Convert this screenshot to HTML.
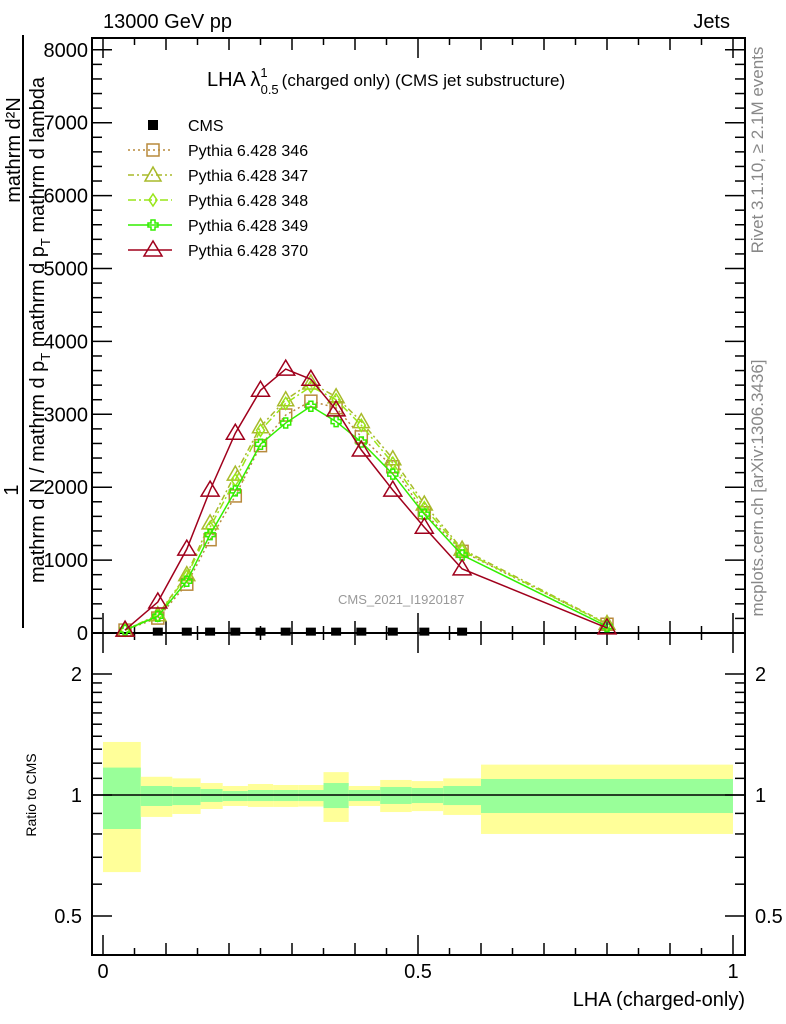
<!DOCTYPE html>
<html><head><meta charset="utf-8"><style>
body{margin:0;background:#fff;}
svg{display:block;font-family:"Liberation Sans",sans-serif;}
</style></head><body>
<svg id="chart" width="786" height="1024" viewBox="0 0 786 1024">
<g id="ratio-bands"></g>
<g id="axes"></g>
<g id="series"></g>
<text x="103" y="28" font-size="20">13000 GeV pp</text>
<text x="730" y="28" font-size="20" text-anchor="end">Jets</text>
<text x="207" y="86" font-size="20">LHA λ<tspan font-size="13" dy="-9">1</tspan><tspan font-size="13" dx="-7" dy="17">0.5</tspan><tspan font-size="17" dy="-8" dx="3">(charged only) (CMS jet substructure)</tspan></text>
<text x="338" y="604" font-size="13" fill="#999">CMS_2021_I1920187</text>
<text transform="translate(763,150) rotate(-90)" font-size="17" fill="#888" text-anchor="middle">Rivet 3.1.10, ≥ 2.1M events</text>
<text transform="translate(763,488) rotate(-90)" font-size="17" fill="#888" text-anchor="middle">mcplots.cern.ch [arXiv:1306.3436]</text>
<g>
<text transform="translate(20,150) rotate(-90)" font-size="20" text-anchor="middle">mathrm d²N</text>
<line x1="23" y1="35" x2="23" y2="628" stroke="#000" stroke-width="2"/>
<text transform="translate(18,490) rotate(-90)" font-size="20" text-anchor="middle">1</text>
<text transform="translate(44,330) rotate(-90)" font-size="20" text-anchor="middle">mathrm d N / mathrm d p<tspan font-size="13" dy="6">T</tspan><tspan dy="-6"> mathrm d p</tspan><tspan font-size="13" dy="6">T</tspan><tspan dy="-6"> mathrm d lambda</tspan></text>
</g>
<text transform="translate(36,795) rotate(-90)" font-size="14" text-anchor="middle">Ratio to CMS</text>
<text x="745" y="1006" font-size="20" text-anchor="end">LHA (charged-only)</text>
<g id="legend"></g>
</svg>
<script>
const xCenters=[0.035,0.087,0.133,0.17,0.21,0.25,0.29,0.33,0.37,0.41,0.46,0.51,0.57,0.8];
const binEdges=[0,0.06,0.11,0.155,0.19,0.23,0.27,0.31,0.35,0.39,0.44,0.49,0.54,0.6,1.0];
const cmsVals=[5,5,5,5,5,5,5,5,5,5,5,5,5,5];
const s346=[40,205,670,1280,1880,2570,2990,3180,3090,2690,2280,1650,1120,120];
const s347=[40,250,800,1510,2180,2830,3200,3430,3240,2900,2390,1770,1150,130];
const s348=[40,240,780,1450,2100,2780,3150,3380,3200,2850,2330,1720,1130,120];
const s349=[40,230,710,1350,1950,2590,2880,3110,2900,2620,2180,1630,1070,90];
const s370=[40,425,1150,1960,2740,3330,3620,3480,3060,2510,1960,1450,880,70];
const totUp=[1.355,1.11,1.10,1.071,1.053,1.065,1.059,1.059,1.14,1.053,1.09,1.083,1.10,1.19];
const statUp=[1.17,1.053,1.047,1.035,1.023,1.029,1.029,1.029,1.071,1.029,1.047,1.041,1.053,1.096];
const statDn=[0.823,0.939,0.944,0.961,0.966,0.966,0.966,0.966,0.928,0.966,0.95,0.955,0.944,0.902];
const totDn=[0.643,0.882,0.897,0.923,0.939,0.934,0.934,0.936,0.857,0.939,0.907,0.912,0.892,0.80];
const yTicks=[0,1000,2000,3000,4000,5000,6000,7000,8000];
const rTicks=[0.5,1,2];
const NS="http://www.w3.org/2000/svg";
const L=92,R=745,T=38,B=633,RB=955;
const X=v=>103+v*630;
const Y=v=>633-v*0.0729;
const YR=r=>795-Math.log10(r)*402;
function el(tag,attrs,parent){const e=document.createElementNS(NS,tag);for(const k in attrs)e.setAttribute(k,attrs[k]);parent.appendChild(e);return e;}
const ax=document.getElementById('axes'),bands=document.getElementById('ratio-bands'),ser=document.getElementById('series'),leg=document.getElementById('legend');
for(let i=0;i<totUp.length;i++){
 const x0=X(binEdges[i]),x1=X(binEdges[i+1]);
 const y=el('rect',{x:x0,y:YR(totUp[i]),width:x1-x0,height:YR(totDn[i])-YR(totUp[i]),fill:'#ffff99'},bands);
 
 
 const g=el('rect',{x:x0,y:YR(statUp[i]),width:x1-x0,height:YR(statDn[i])-YR(statUp[i]),fill:'#99ff99'},bands);
 
 
}
el('line',{x1:L,x2:R,y1:YR(1),y2:YR(1),stroke:'#000','stroke-width':1.5},ax);
el('rect',{x:L,y:T,width:R-L,height:B-T,fill:'none',stroke:'#000','stroke-width':2},ax);
el('rect',{x:L,y:B,width:R-L,height:RB-B,fill:'none',stroke:'#000','stroke-width':2},ax);
for(let v=0;v<=8000;v+=200){const y=Y(v);if(y<T)continue;const m=v%1000===0;const len=m?20:10;
 el('line',{x1:L,x2:L+len,y1:y,y2:y,stroke:'#000','stroke-width':1.5},ax);
 el('line',{x1:R,x2:R-len,y1:y,y2:y,stroke:'#000','stroke-width':1.5},ax);}
yTicks.forEach(v=>{const t=el('text',{x:L-4,y:Y(v)+7,'font-size':20,'text-anchor':'end'},ax);t.textContent=v;
 
 });
for(let i=0;i<=20;i++){const v=i*0.05,x=X(v);const len=i%10===0?20:(i%2===0?12:7);
 [[B,-1],[RB,-1],[B,1],[T,1]].forEach(([yb,d])=>el('line',{x1:x,x2:x,y1:yb,y2:yb+d*len,stroke:'#000','stroke-width':1.5},ax));}
[0,0.5,1].forEach(v=>{const t=el('text',{x:X(v),y:978,'font-size':20,'text-anchor':'middle'},ax);t.textContent=v;
 
 });
[0.5,0.6,0.7,0.8,0.9,1,1.1,1.2,1.3,1.4,1.5,1.6,1.7,1.8,1.9,2].forEach(r=>{const y=YR(r);if(y<B)return;const m=rTicks.includes(r);const len=m?20:10;
 el('line',{x1:L,x2:L+len,y1:y,y2:y,stroke:'#000','stroke-width':1.5},ax);
 el('line',{x1:R,x2:R-len,y1:y,y2:y,stroke:'#000','stroke-width':1.5},ax);});
rTicks.forEach(r=>{[[L-10,'end'],[R+10,'start']].forEach(([x,a])=>{const t=el('text',{x:x,y:YR(r)+7,'font-size':20,'text-anchor':a},ax);t.textContent=r;
 
 });});
function marker(type,x,y,c,g){
 if(type==='sq')return el('rect',{x:x-6,y:y-6,width:12,height:12,fill:'none',stroke:c,'stroke-width':1.5},g);
 if(type==='tri')return el('polygon',{points:`${x},${y-8} ${x-8},${y+6} ${x+8},${y+6}`,fill:'none',stroke:c,'stroke-width':1.5},g);
 if(type==='dia')return el('polygon',{points:`${x},${y-6} ${x-4},${y} ${x},${y+6} ${x+4},${y}`,fill:'none',stroke:c,'stroke-width':1.5},g);
 if(type==='plus')return el('path',{d:`M${x-2},${y-5}h4v3h3v4h-3v3h-4v-3h-3v-4h3z`,fill:'none',stroke:c,'stroke-width':1.5},g);
 if(type==='bigtri')return el('polygon',{points:`${x},${y-9} ${x-9},${y+6} ${x+9},${y+6}`,fill:'none',stroke:c,'stroke-width':1.5},g);
}
const series=[
 {name:'Pythia 6.428 346',vals:s346,c:'#b88a3c',dash:'2,3',m:'sq',id:'series-346'},
 {name:'Pythia 6.428 347',vals:s347,c:'#a8ba2a',dash:'6,3,2,3',m:'tri',id:'series-347'},
 {name:'Pythia 6.428 348',vals:s348,c:'#99e619',dash:'8,3,2,3',m:'dia',id:'series-348'},
 {name:'Pythia 6.428 349',vals:s349,c:'#33ee00',dash:'',m:'plus',id:'series-349'},
 {name:'Pythia 6.428 370',vals:s370,c:'#a0001c',dash:'',m:'bigtri',id:'series-370'}];
series.forEach(s=>{const g=el('g',{},ser);
 
 
 const pts=s.vals.map((v,i)=>X(xCenters[i])+','+Y(v)).join(' ');
 el('polyline',{points:pts,fill:'none',stroke:s.c,'stroke-width':1.5,'stroke-dasharray':s.dash},g);
 s.vals.forEach((v,i)=>marker(s.m,X(xCenters[i]),Y(v),s.c,g));});
const cg=el('g',{},ser);


cmsVals.forEach((v,i)=>{if(xCenters[i]>0.7||i===0)return;el('rect',{x:X(xCenters[i])-5,y:Y(v)-5,width:10,height:8,fill:'#000'},cg);});
const lg=[{name:'CMS',m:'cms'}].concat(series);
lg.forEach((s,i)=>{const y=125+i*25;const g=el('g',{},leg);
 
 
 if(s.m==='cms')el('rect',{x:148,y:y-5,width:10,height:10,fill:'#000'},g);
 else{el('line',{x1:128,x2:172,y1:y,y2:y,stroke:s.c,'stroke-width':1.5,'stroke-dasharray':s.dash},g);marker(s.m,153,y,s.c,g);}
 const t=el('text',{x:188,y:y+6,'font-size':16},g);t.textContent=s.name;});
</script>
</body></html>
